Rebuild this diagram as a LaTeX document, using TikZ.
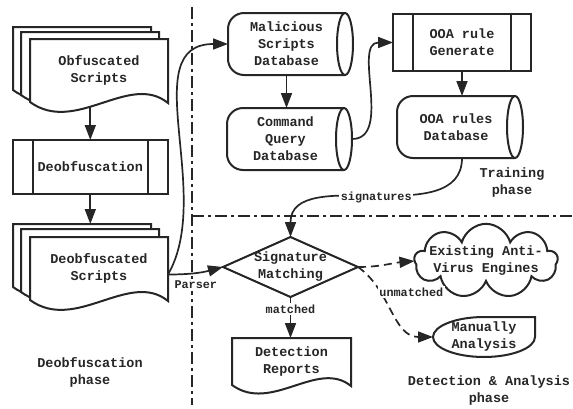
\documentclass[tikz,border=0pt]{standalone}
\usepackage{fontspec}
\setmainfont{Liberation Mono}
\usepackage{tikz}
\usetikzlibrary{arrows.meta,shapes.geometric,shapes.symbols}
\definecolor{ink}{HTML}{262626}
\newcommand{\dbshape}[1]{%
                \draw[rounded corners=16pt] (#1.north east) -- (#1.north west) -- (#1.south west) -- (#1.south east);
                \draw (#1.east) ellipse [x radius=8pt, y radius=31pt];}

\begin{document}
\begin{tikzpicture}[x=1pt,y=-1pt,ink,line width=2pt,
                txt/.style={font=\fontsize{13.5}{17}\selectfont\bfseries,align=center,inner sep=0pt,outer sep=0pt},
                lab/.style={font=\fontsize{11.8}{14}\selectfont\bfseries,inner sep=1.5pt,fill=white},
                arr/.style={line width=1.7pt,-{Triangle[length=15pt,width=11pt]}},
                dashline/.style={dash pattern=on 8pt off 5pt},
                phaseline/.style={line width=1.8pt,dash pattern=on 12pt off 4pt on 3pt off 4pt},
                process/.style={txt,draw,path picture={
                    \draw ([xshift=20pt]path picture bounding box.north west) -- ([xshift=20pt]path picture bounding box.south west);
                    \draw ([xshift=-20pt]path picture bounding box.north east) -- ([xshift=-20pt]path picture bounding box.south east);}},
                db/.style={txt,minimum width=117pt,minimum height=62pt},
                decision/.style={txt,diamond,draw,aspect=2.25,inner sep=-2pt,minimum width=135pt,minimum height=60pt},
                engine/.style={cloud,draw,cloud puffs=9,cloud ignores aspect,inner xsep=50pt,inner ysep=14pt,outer sep=0pt},
                pics/sheet/.style 2 args={code={
                    \draw[fill=white] (0,0) -- (#1,0) -- (#1,{#2+1}) .. controls ({0.72*#1},{#2-0.22*#1}) and ({0.33*#1},{#2+0.24*#1}) .. (0,#2) -- cycle;}}]
                \useasboundingbox (0,0) rectangle (573,408);

                \coordinate (sepTop) at (192,7);
                \coordinate (sepBottom) at (192,405);
                \coordinate (sepMid) at (192,216);
                \coordinate (sepRight) at (573,216);
                \draw[phaseline] (sepTop) -- (sepBottom);
                \draw[phaseline] (sepMid) -- (sepRight);

                \foreach \dx/\dy in {13/27,21/32,30/39}
                    \pic at (\dx,\dy) {sheet={138}{63}};
                \node[txt,anchor=north west,minimum width=138pt,minimum height=63pt] (obf) at (30,39) {Obfuscated\\Scripts};

                \node[process,minimum width=155pt,minimum height=54pt] (deob) at (90.3,167) {Deobfuscation};

                \coordinate (deobsBack) at (13,224);
                \foreach \dx/\dy in {13/224,21/229,30/237}
                    \pic at (\dx,\dy) {sheet={138}{63}};
                \node[txt,anchor=north west,minimum width=138pt,minimum height=63pt] (deobs) at (30,237) {Deobfuscated\\Scripts};

                \node[db] (mal) at (286.5,44) {Malicious\\Scripts\\Database};
                \node[db] (cq) at (285.5,139) {Command\\Query\\Database};
                \node[db,minimum width=118pt] (ooadb) at (456,127) {OOA rules\\Database};
                \dbshape{mal}
                \dbshape{cq}
                \dbshape{ooadb}

                \node[process,minimum width=138pt,minimum height=57pt] (gen) at (462,42.5) {OOA rule\\Generate};

                \node[decision] (sig) at (290.5,267) {Signature\\Matching};

                \pic at (232,338) {sheet={119}{47}};
                \node[txt,anchor=north west,minimum width=119pt,minimum height=47pt] (rep) at (232,338) {Detection\\Reports};

                \node[engine] (av) at (486,261) {};
                \node[txt] (avText) at (av.center) {Existing Anti-\\Virus Engines};

                \node[txt,minimum width=102pt,minimum height=40pt] (manual) at (484,337) {Manually\\Analysis};
                \draw (manual.north east) -- (manual.east) .. controls +(0,11) and +(28,0) .. (manual.south)
                    .. controls +(-28,0) and +(0,11) .. (manual.west) .. controls +(0,-11) and +(-28,0) .. (manual.north) -- cycle;

                \node[txt] (deobPhase) at (90,372) {Deobfuscation\\phase};
                \node[txt] (trainPhase) at (512,183) {Training\\phase};
                \node[txt] (detPhase) at (489,391) {Detection \& Analysis\\phase};

                \draw[arr] ([yshift=-5pt]obf.south -| deob.north) -- (deob.north);
                \draw[arr] (deob.south) -- (deob.south |- deobsBack);
                \draw[arr] ([yshift=-6pt]deobs.east) to[out=60,in=180] (mal.west);
                \draw[arr] ([yshift=-6pt]deobs.east) to[out=0,in=195] node[lab,pos=0.5,below=6pt] {Parser} (sig.west);
                \draw[arr] (mal.south) -- (mal.south |- cq.north);
                \draw[arr] ([xshift=8pt]cq.east) to[out=0,in=180] (gen.west);
                \draw[arr] (gen.south) -- (gen.south |- ooadb.north);
                \draw[arr] (gen.south |- ooadb.south) to[out=-90,in=90] node[lab] {signatures} (sig.north);
                \draw[arr] (sig.south) -- node[lab,pos=0.3] {matched} (sig.south |- rep.north);
                \draw[arr,dashline] (sig.east) to[out=0,in=185] (av.west);
                \draw[arr,dashline] (sig.east) to[out=-35,in=180] node[lab,pos=0.3,anchor=west,xshift=-4pt] {unmatched} (manual.west);
\end{tikzpicture}
\end{document}
